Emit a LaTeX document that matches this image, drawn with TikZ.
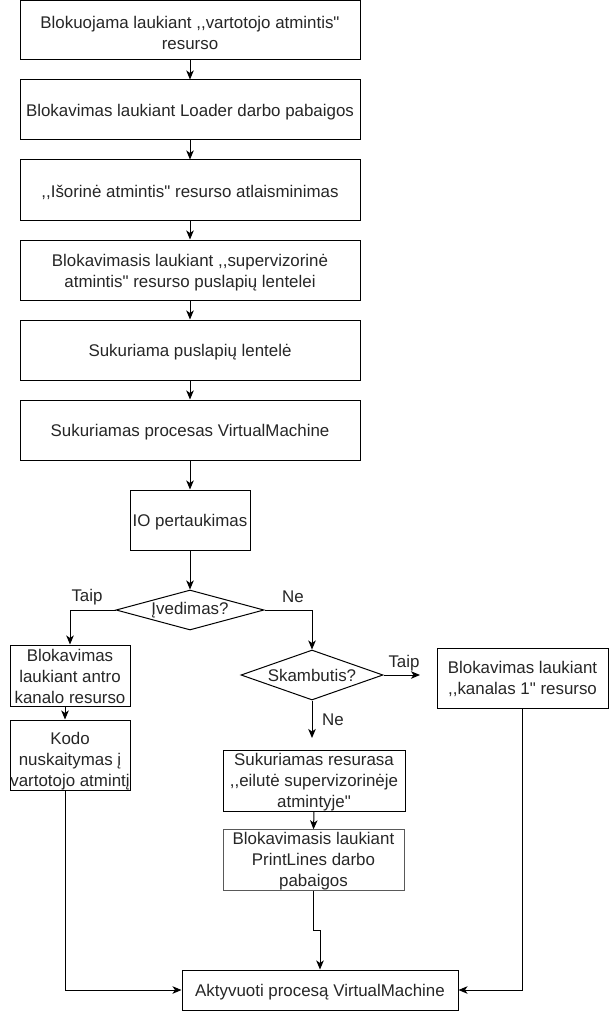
\documentclass[tikz,border=0pt]{standalone}
\usepackage{fontspec}
\newfontfamily\lt{Liberation Sans}
\usetikzlibrary{shapes.geometric,arrows.meta,calc}
\newcommand{\tstrut}[1]{\rule{0pt}{#1}}
\begin{document}
\begin{tikzpicture}[x=1pt,y=-1pt,
  every node/.style={font=\lt\fontsize{16.9}{21}\selectfont},
  box/.style={draw,line width=1pt,rectangle,inner sep=0pt,align=center,text=black!85},
  dia/.style={draw,line width=1pt,diamond,inner sep=0pt,aspect=3.5,text=black!85},
  lbl/.style={inner sep=0pt,text=black!85},
  conn/.style={line width=1pt,-{Stealth[length=9pt,width=7.5pt,inset=2.5pt]}},
  plain/.style={line width=1pt}]
\useasboundingbox (0,0) rectangle (611,1011);
\node[box,minimum width=340,minimum height=59] (b1) at (190,30.5) {\tstrut{17pt}Blokuojama laukiant ,,vartotojo atmintis"\\resurso};
\node[box,minimum width=340,minimum height=60] (b2) at (190,110) {\tstrut{17pt}Blokavimas laukiant Loader darbo pabaigos};
\node[box,minimum width=340,minimum height=60] (b3) at (190,190) {\tstrut{17pt},,Išorinė atmintis" resurso atlaisminimas};
\node[box,minimum width=340,minimum height=60] (b4) at (190,270) {\tstrut{18pt}Blokavimasis laukiant ,,supervizorinė\\atmintis" resurso puslapių lentelei};
\node[box,minimum width=340,minimum height=60] (b5) at (190,350) {\tstrut{17pt}Sukuriama puslapių lentelė};
\node[box,minimum width=340,minimum height=60] (b6) at (190,430) {\tstrut{17pt}Sukuriamas procesas VirtualMachine};
\node[box,minimum width=120,minimum height=60] (io) at (190,520) {\tstrut{17pt}IO pertaukimas};
\node[dia,minimum width=148,minimum height=40] (d1) at (190,610) {Įvedimas?};
\node[dia,minimum width=142,minimum height=50] (d2) at (312,675) {Skambutis?};
\node[box,minimum width=120,minimum height=61] (l1) at (70,675.5) {\tstrut{15pt}Blokavimas\\laukiant antro\\kanalo resurso};
\node[box,minimum width=120,minimum height=70] (l2) at (70,755) {\tstrut{24pt}Kodo\\nuskaitymas į\\vartotojo atmintį};
\node[box,minimum width=171,minimum height=60] (r1) at (522.5,678) {\tstrut{15pt}Blokavimas laukiant\\,,kanalas 1" resurso};
\node[box,minimum width=182,minimum height=58] (m1) at (314,781) {\tstrut{15pt}Sukuriamas resurasa\\,,eilutė supervizorinėje\\atmintyje"};
\node[box,draw=black!65,minimum width=181,minimum height=60] (m2) at (313.5,860) {\tstrut{15pt}Blokavimasis laukiant\\PrintLines darbo\\pabaigos};
\node[box,minimum width=276,minimum height=40] (fin) at (320,990) {\tstrut{17pt}Aktyvuoti procesą VirtualMachine};
\node[lbl] (t1) at (87,597) {Taip};
\node[lbl] (n1) at (293,597) {Ne};
\node[lbl] (t2) at (404,663) {Taip};
\node[lbl] (n2) at (333,720) {Ne};
\coordinate (ta) at (420,675);
\coordinate (ne) at (312,738);
\draw[conn] (b1) -- (b2);
\draw[conn] (b2) -- (b3);
\draw[conn] (b3) -- (b4);
\draw[conn] (b4) -- (b5);
\draw[conn] (b5) -- (b6);
\draw[conn] (b6) -- (io);
\draw[conn] (io) -- (d1);
\draw[conn] (d1.west) -| (l1.north);
\draw[conn] (d1.east) -| (d2.north);
\draw[conn] (d2.east) -- (ta);
\draw[conn] (d2.south) -- (ne);
\draw[conn] ([xshift=-5pt]l1.south) -- ([xshift=-5pt]l2.north);
\draw[conn] ([xshift=-5pt]l2.south) |- (fin.west);
\draw[conn] (r1.south) |- (fin.east);
\draw[conn] (m1.south) -- (m2.north);
\draw[conn] (m2.south) |- ($(m2.south)!.5!(fin.north)$) -| (fin.north);
\end{tikzpicture}
\end{document}
